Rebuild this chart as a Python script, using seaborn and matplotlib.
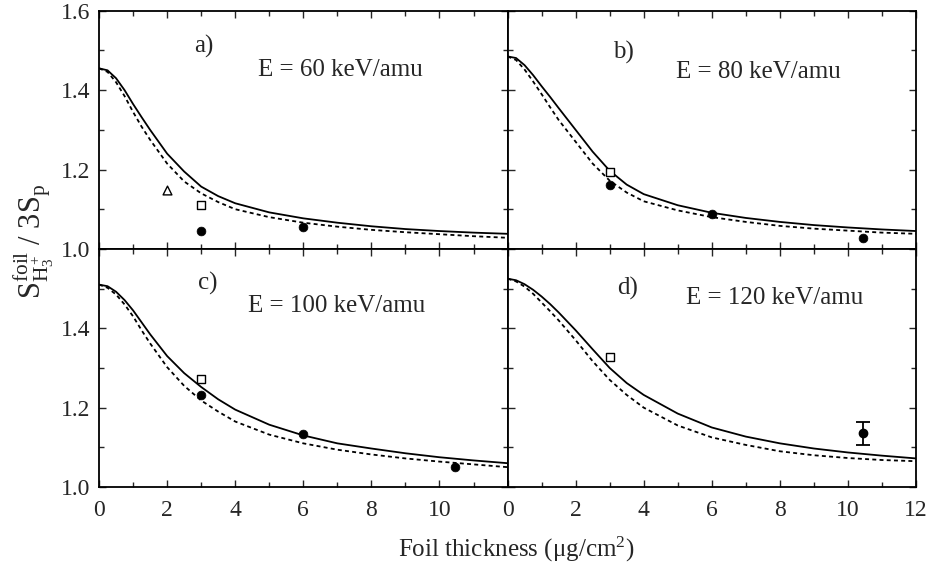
import matplotlib
matplotlib.use("Agg")
import matplotlib.pyplot as plt
import seaborn as sns
from matplotlib.ticker import MultipleLocator

# x grid the theory curves were read at (ug/cm^2)
xs = [0, 0.25, 0.5, 0.75, 1, 1.25, 1.5, 2, 2.5, 3, 3.5, 4, 5, 6, 7, 8, 9, 10, 11, 12]

# theory curves, solid and dotted, per energy
solid_60 = [1.455, 1.450, 1.430, 1.400, 1.365, 1.332, 1.300, 1.240, 1.195, 1.157, 1.133,
            1.115, 1.092, 1.077, 1.066, 1.057, 1.050, 1.045, 1.041, 1.038]
dotted_60 = [1.455, 1.446, 1.420, 1.385, 1.345, 1.308, 1.275, 1.215, 1.170, 1.140, 1.118,
             1.100, 1.080, 1.066, 1.056, 1.048, 1.042, 1.037, 1.032, 1.028]
solid_80 = [1.485, 1.481, 1.463, 1.438, 1.410, 1.383, 1.355, 1.300, 1.245, 1.197, 1.162,
            1.138, 1.110, 1.091, 1.078, 1.068, 1.060, 1.054, 1.049, 1.045]
dotted_80 = [1.485, 1.476, 1.452, 1.422, 1.390, 1.357, 1.325, 1.270, 1.215, 1.172, 1.142,
             1.120, 1.097, 1.080, 1.068, 1.058, 1.051, 1.046, 1.041, 1.038]
solid_100 = [1.510, 1.506, 1.492, 1.471, 1.445, 1.415, 1.385, 1.330, 1.287, 1.252, 1.221,
             1.195, 1.157, 1.130, 1.110, 1.097, 1.085, 1.075, 1.067, 1.060]
dotted_100 = [1.510, 1.502, 1.485, 1.460, 1.430, 1.395, 1.362, 1.302, 1.255, 1.218, 1.190,
              1.165, 1.132, 1.110, 1.094, 1.082, 1.072, 1.064, 1.057, 1.050]
solid_120 = [1.525, 1.521, 1.511, 1.497, 1.480, 1.461, 1.440, 1.395, 1.347, 1.300, 1.262,
             1.232, 1.185, 1.150, 1.127, 1.110, 1.097, 1.087, 1.079, 1.072]
dotted_120 = [1.525, 1.518, 1.505, 1.487, 1.465, 1.443, 1.420, 1.370, 1.317, 1.270, 1.232,
              1.200, 1.155, 1.125, 1.106, 1.090, 1.080, 1.073, 1.068, 1.065]

# measured points
circ_x = {60: [3.0, 6.0], 80: [3.0, 6.0, 10.45], 100: [3.0, 6.0, 10.45], 120: [10.45]}
circ_y = {60: [1.045, 1.056], 80: [1.160, 1.089, 1.027], 100: [1.233, 1.133, 1.050], 120: [1.135]}
sq_x = {60: [3.0], 80: [3.0], 100: [3.0], 120: [3.0]}
sq_y = {60: [1.111], 80: [1.195], 100: [1.273], 120: [1.328]}
tri_x = [2.0]
tri_y = [1.149]
err_120 = 0.03

energies = [60, 80, 100, 120]
panel_tags = ["a)", "b)", "c)", "d)"]
solids = [solid_60, solid_80, solid_100, solid_120]
dotteds = [dotted_60, dotted_80, dotted_100, dotted_120]
tag_pos = [(3.07, 1.51), (3.4, 1.494), (3.2, 1.512), (3.54, 1.50)]
label_pos = [(4.66, 1.45), (4.94, 1.446), (4.37, 1.457), (5.23, 1.477)]

sns.set_style("ticks")
plt.rcParams["font.family"] = ["Liberation Serif", "DejaVu Serif"]
plt.rcParams["mathtext.fontset"] = "custom"
plt.rcParams["mathtext.rm"] = "Liberation Serif"
plt.rcParams["mathtext.it"] = "Liberation Serif:italic"

fig, axes = plt.subplots(2, 2, figsize=(9.3, 5.68), dpi=100)
fig.subplots_adjust(left=0.1065, right=0.985, top=0.981, bottom=0.1426,
                    wspace=0, hspace=0)

for i, ax in enumerate(axes.flat):
    e = energies[i]
    sns.lineplot(x=xs, y=solids[i], ax=ax, color="black", lw=1.3)
    sns.lineplot(x=xs, y=dotteds[i], ax=ax, color="black", lw=1.3,
                 linestyle=(0, (2.2, 1.8)))
    if e == 120:
        ax.errorbar(circ_x[e], circ_y[e], yerr=err_120, fmt="o", color="black",
                    ms=6, capsize=5, elinewidth=1.3, capthick=1.3)
    else:
        sns.scatterplot(x=circ_x[e], y=circ_y[e], ax=ax, color="black",
                        marker="o", s=40, edgecolor="black")
    sns.scatterplot(x=sq_x[e], y=sq_y[e], ax=ax, color="white", marker="s",
                    s=32, edgecolor="black", linewidth=1.0, zorder=5)
    if e == 60:
        sns.scatterplot(x=tri_x, y=tri_y, ax=ax, color="white", marker="^",
                        s=40, edgecolor="black", linewidth=1.0, zorder=5)

    ax.text(*tag_pos[i], panel_tags[i], fontsize=18, ha="center", va="center")
    ax.text(*label_pos[i], f"E = {e} keV/amu", fontsize=18, ha="left", va="center")

    ax.set_xlim(0, 12)
    ax.set_ylim(1.0, 1.6)
    ax.xaxis.set_major_locator(MultipleLocator(2))
    ax.xaxis.set_minor_locator(MultipleLocator(1))
    ax.yaxis.set_major_locator(MultipleLocator(0.2))
    ax.yaxis.set_minor_locator(MultipleLocator(0.1))
    ax.tick_params(which="both", direction="in", top=True, right=True,
                   labelsize=17, width=1.0)
    ax.tick_params(which="major", length=5)
    ax.tick_params(which="minor", length=3.5)
    ax.tick_params(axis="x", pad=9)
    ax.tick_params(axis="y", pad=6)
    for sp in ax.spines.values():
        sp.set_linewidth(1.3)
        sp.set_color("black")
    ax.set_xlabel("")
    ax.set_ylabel("")

    row, col = divmod(i, 2)
    if row == 0:
        ax.tick_params(labelbottom=False)
    if col == 1:
        ax.tick_params(labelleft=False)

axes[1, 0].set_yticks([1.0, 1.2, 1.4, 1.6])
axes[1, 0].set_yticklabels(["1.0", "1.2", "1.4", ""])
axes[1, 0].set_xticks([0, 2, 4, 6, 8, 10, 12])
axes[1, 0].set_xticklabels(["0", "2", "4", "6", "8", "10", ""])
axes[0, 0].set_yticks([1.0, 1.2, 1.4, 1.6])
axes[0, 0].set_yticklabels(["1.0", "1.2", "1.4", "1.6"])

fig.text(0.555, 0.032, "Foil thickness (\u03bcg/cm$^2$)", fontsize=18,
         ha="center", va="center")
fig.text(0.036, 0.575, r"$\mathrm{S^{foil}_{H^+_3}\ /\ 3S_p}$", fontsize=22,
         rotation=90, ha="center", va="center")

fig.savefig("out.png", dpi=100)
